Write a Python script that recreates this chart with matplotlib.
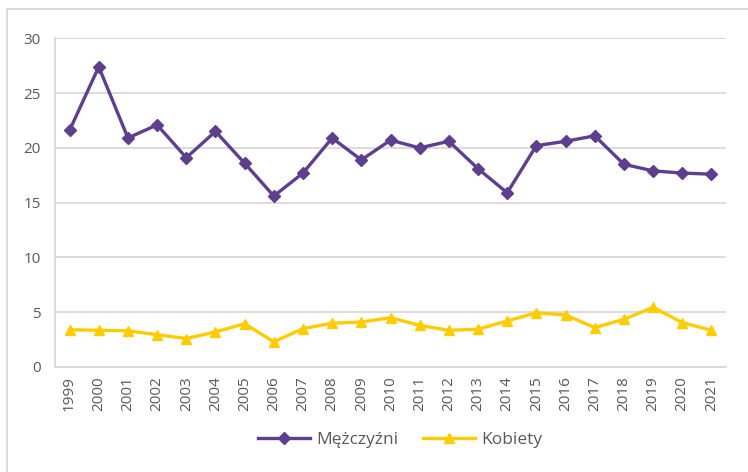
import numpy as np
import matplotlib.pyplot as plt
from matplotlib.lines import Line2D

# data
years = [str(y) for y in range(1999, 2022)]
men = [21.6, 27.4, 20.9, 22.1, 19.1, 21.5, 18.6, 15.6, 17.7, 20.9, 18.9, 20.7,
       20.0, 20.6, 18.1, 15.9, 20.2, 20.6, 21.1, 18.5, 17.9, 17.7, 17.6]
women = [3.4, 3.35, 3.3, 2.95, 2.6, 3.2, 3.95, 2.3, 3.5, 4.0, 4.1, 4.5,
         3.8, 3.35, 3.45, 4.2, 4.95, 4.75, 3.6, 4.35, 5.45, 4.05, 3.35]

purple = '#5E3F8D'
yellow = '#FFCC00'
grid_c = '#D9D9D9'
text_c = '#595959'

plt.rcParams['font.family'] = ['Open Sans', 'DejaVu Sans']

W, H = 748, 472
fig = plt.figure(figsize=(W / 100, H / 100), dpi=100)
ax = fig.add_axes([55 / W, 1 - 367 / H, (726 - 55) / W, (367 - 38.3) / H])

x = np.arange(len(years))
ax.plot(x, men, color=purple, lw=2.4, marker='D', ms=6.5, label='Mężczyźni')
ax.plot(x, women, color=yellow, lw=2.4, marker='^', ms=7.5, label='Kobiety')

ax.set_xlim(-0.5, len(years) - 0.5)
ax.set_ylim(0, 30)
ax.set_yticks(range(0, 31, 5))
ax.set_xticks(x)
ax.set_xticklabels(years, rotation=90)
ax.yaxis.grid(True, color=grid_c, lw=1.3)
ax.set_axisbelow(True)
for s in ['top', 'right']:
    ax.spines[s].set_visible(False)
for s in ['left', 'bottom']:
    ax.spines[s].set_color(grid_c)
    ax.spines[s].set_linewidth(1.3)
ax.tick_params(length=0, labelsize=11, colors=text_c)
ax.tick_params(axis='x', pad=6.5)
ax.tick_params(axis='y', pad=10)

ax.legend(loc='center', bbox_to_anchor=(400 / W, 1 - 440 / H),
          bbox_transform=fig.transFigure, ncol=2, frameon=False,
          fontsize=12.5, handlelength=3.0, handletextpad=0.35,
          columnspacing=1.4, labelcolor=text_c)

# outer chart frame
fig.add_artist(Line2D([7 / W, 7 / W], [0, 1 - 9 / H], transform=fig.transFigure,
                      color=grid_c, lw=1.3))
fig.add_artist(Line2D([7 / W, 1], [1 - 9 / H, 1 - 9 / H], transform=fig.transFigure,
                      color=grid_c, lw=1.3))

fig.savefig('out.png', dpi=100)
